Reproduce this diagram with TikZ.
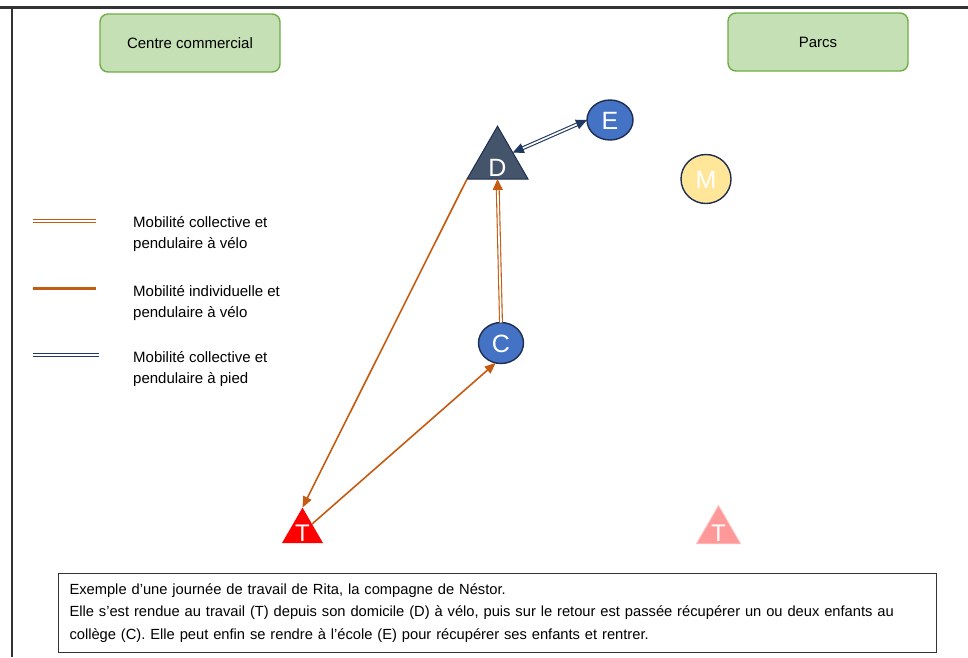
\documentclass[tikz,border=0pt]{standalone}
\usepackage{fontspec}
\setmainfont{Liberation Sans}
\usetikzlibrary{arrows.meta,shapes.geometric}
\definecolor{zonefill}{HTML}{C5E0B4}
\definecolor{zonedraw}{HTML}{70AD47}
\definecolor{bluefill}{HTML}{4472C4}
\definecolor{navyline}{HTML}{1F2D50}
\definecolor{slatefill}{HTML}{44546A}
\definecolor{yellowfill}{HTML}{FFE699}
\definecolor{orangeline}{HTML}{C55A11}
\definecolor{navyarrow}{HTML}{203864}
\definecolor{pinkfill}{HTML}{FF9999}
\definecolor{framegray}{HTML}{333333}
\begin{document}
\begin{tikzpicture}[x=1pt,y=-1pt,
  zone/.style={draw=zonedraw, fill=zonefill, rounded corners=8pt, line width=1.4pt,
    minimum width=180pt, minimum height=58pt, font=\fontsize{15}{18}\selectfont},
  place/.style={ellipse, draw=navyline, line width=1.4pt, fill=bluefill, inner sep=0pt, outer sep=0pt},
  tri/.style={regular polygon, regular polygon sides=3, inner sep=0pt, outer sep=0pt},
  letter/.style={text=white, font=\fontsize{25}{25}\selectfont, inner sep=0pt},
  legendtxt/.style={anchor=west, align=left, inner sep=0pt, font=\fontsize{15}{21}\selectfont},
  tip/.style={-{Triangle[length=11pt,width=9pt]}},
  velo/.style={draw=orangeline, line width=1.6pt, tip},
  velocol/.style={draw=orangeline, line width=1.1pt, double=white, double distance=1.7pt},
  piedcol/.style={draw=navyarrow, line width=1.1pt, double=white, double distance=1.7pt}
]
\useasboundingbox (0,0) rectangle (968,657);
% frame
\draw[framegray, line width=3pt] (0,7) -- (968,7);
\draw[framegray, line width=2pt] (12,7) -- (12,657);
% zones
\node[zone] (cc) at (190,43) {Centre commercial};
\node[zone] (parcs) at (818,42) {Parcs};
% places
\node[tri, fill=slatefill, draw=navyline, line width=1pt, minimum size=70.4pt] (D) at (497.5,161.4) {};
\node[letter] (Dl) at (497.5,168) {D};
\node[place, minimum width=46pt, minimum height=40pt] (E) at (610,120) {};
\node[letter] (El) at (610,121) {E};
\node[place, minimum width=45pt, minimum height=41pt] (C) at (501,343) {};
\node[letter] (Cl) at (501,344) {C};
\node[ellipse, draw=navyline, line width=1.4pt, fill=yellowfill, inner sep=0pt,
      minimum width=50pt, minimum height=49pt] (M) at (706,179) {};
\node[letter] (Ml) at (706,180) {M};
\node[tri, fill=red, minimum size=47.3pt] (T) at (302.5,531.2) {};
\node[letter, font=\fontsize{24}{24}\selectfont] (Tl) at (302.5,533) {T};
\node[tri, fill=pinkfill, draw=pinkfill!60!white, line width=0.8pt, minimum size=51pt] (T2) at (718.5,531) {};
\node[letter, font=\fontsize{24}{24}\selectfont] (T2l) at (718.5,533) {T};
% connectors
\draw[piedcol, {Triangle[length=11pt,width=10pt]}-{Triangle[length=11pt,width=10pt]}] (D.30) -- (E.west);
\draw[velocol, -{Triangle[length=11pt,width=10pt]}] (C.north) -- (D.south);
\draw[velo] (D.210) -- (T.north);
\draw[velo] (T.37) -- (C.255);
% legend
\draw[velocol] (33,221) -- (96,221);
\node[legendtxt] (l1) at (133,234.5) {Mobilité collective et\\pendulaire à vélo};
\draw[orangeline, line width=3pt] (33,288) -- (96,288);
\node[legendtxt] (l2) at (133,303) {Mobilité individuelle et\\pendulaire à vélo};
\draw[piedcol] (33,355) -- (99,355);
\node[legendtxt] (l3) at (133,369) {Mobilité collective et\\pendulaire à pied};
% caption
\node[draw=framegray, line width=1pt, anchor=north west, minimum width=878pt, minimum height=79pt,
      text width=856pt, inner xsep=11pt, align=left, font=\fontsize{14.7}{22.5}\selectfont] (cap) at (58,573)
  {Exemple d’une journée de travail de Rita, la compagne de Néstor.\\
   Elle s’est rendue au travail (T) depuis son domicile (D) à vélo, puis sur le retour est passée récupérer un ou deux enfants au\\
   collège (C). Elle peut enfin se rendre à l’école (E) pour récupérer ses enfants et rentrer.};
\end{tikzpicture}
\end{document}
